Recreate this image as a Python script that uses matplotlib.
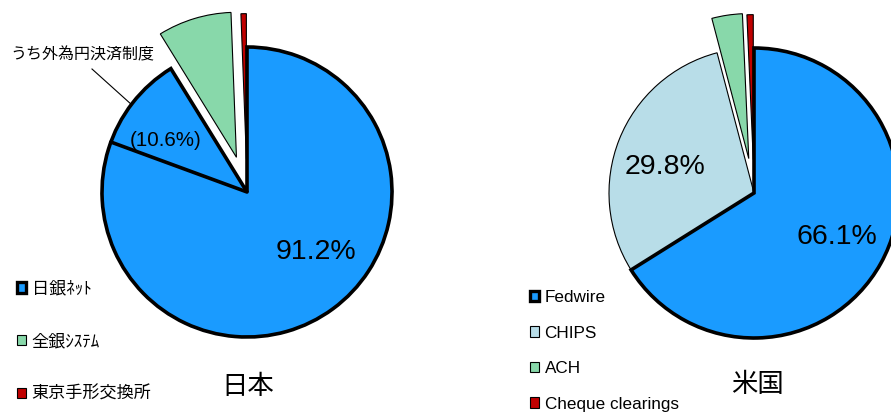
import numpy as np
import matplotlib
matplotlib.use("Agg")
import matplotlib.pyplot as plt
from matplotlib.patches import Patch

plt.rcParams["font.family"] = ["Liberation Sans", "Noto Sans CJK JP"]

# 日本
jp_labels = ["日銀ﾈｯﾄ", "全銀ｼｽﾃﾑ", "東京手形交換所"]
jp_values = [91.2, 8.2, 0.6]
jp_sub = 10.6          # うち外為円決済制度
# 米国
us_labels = ["Fedwire", "CHIPS", "ACH", "Cheque clearings"]
us_values = [66.1, 29.8, 3.4, 0.7]

BLUE, LBLUE, GREEN, RED = "#1a9bff", "#b8dde8", "#88d8aa", "#c00000"
R = 145


def draw_pie(ax, values, colors, explode, center):
    # pie の explode はデータ単位なので半径を掛ける
    wedges, _ = ax.pie(values, colors=colors, explode=[e * R for e in explode],
                       startangle=90, counterclock=False, radius=R, center=center,
                       wedgeprops=dict(edgecolor="black", linewidth=0.8))
    wedges[0].set_linewidth(2.6)
    wedges[0].set_zorder(3)
    return wedges


def legend_handles(colors):
    hs = []
    for i, c in enumerate(colors):
        hs.append(Patch(facecolor=c, edgecolor="black", linewidth=2.4 if i == 0 else 0.8))
    return hs


fig = plt.figure(figsize=(8.91, 4.12), dpi=100)
ax = fig.add_axes([0, 0, 1, 1])

# --- 日本 ---
jc = (247, 220)
jp_colors = [BLUE, GREEN, RED]
draw_pie(ax, jp_values, jp_colors, [0, 0.25, 0.23], jc)
a_end = 90 - jp_values[0] * 3.6 + 360          # 日銀ネット終端角
a_sub = np.deg2rad(a_end + jp_sub * 3.6)
ax.plot([jc[0], jc[0] + R * np.cos(a_sub)], [jc[1], jc[1] + R * np.sin(a_sub)],
        color="black", lw=2.6, zorder=4, solid_capstyle="round")
ax.text(166, 272, f"({jp_sub}%)", fontsize=14.8, ha="center", va="center", zorder=5)
ax.text(316, 160, f"{jp_values[0]}%", fontsize=20.5, ha="center", va="center", zorder=5)
ax.text(10, 357, "うち外為円決済制度", fontsize=11.5, ha="left", va="center")
ax.plot([92, 132], [343, 307], color="black", lw=0.8)
ax.text(248, 25, "日本", fontsize=19, ha="center", va="center")
leg1 = ax.legend(handles=legend_handles(jp_colors), labels=jp_labels, loc="upper left",
                 bbox_to_anchor=(17 / 891, 1 - 281 / 412), frameon=False, fontsize=12.3,
                 handlelength=0.55, handleheight=0.55, handletextpad=0.3,
                 labelspacing=2.15, borderpad=0, borderaxespad=0)
ax.add_artist(leg1)

# --- 米国 ---
uc = (754, 219)
us_colors = [BLUE, LBLUE, GREEN, RED]
draw_pie(ax, us_values, us_colors, [0, 0, 0.24, 0.23], uc)
ax.text(665, 245, f"{us_values[1]}%", fontsize=20.5, ha="center", va="center", zorder=5)
ax.text(837, 175, f"{us_values[0]}%", fontsize=20.5, ha="center", va="center", zorder=5)
ax.text(757, 27, "米国", fontsize=19, ha="center", va="center")
ax.legend(handles=legend_handles(us_colors), labels=us_labels, loc="upper left",
          bbox_to_anchor=(530 / 891, 1 - 290 / 412), frameon=False, fontsize=12.3,
          handlelength=0.55, handleheight=0.55, handletextpad=0.3,
          labelspacing=1.2, borderpad=0, borderaxespad=0)

ax.set_xlim(0, 891)
ax.set_ylim(0, 412)
ax.set_aspect("equal")
ax.axis("off")
fig.savefig("out.png", dpi=100)
